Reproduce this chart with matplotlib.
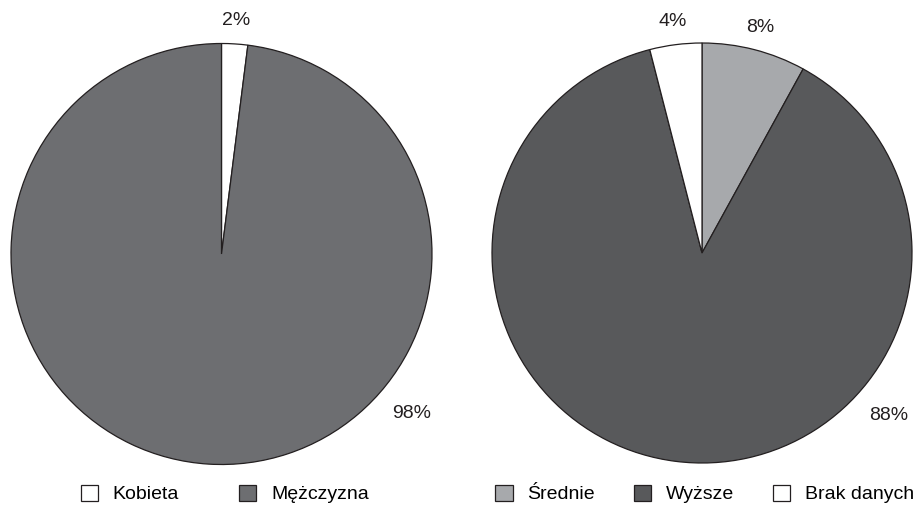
import numpy as np
import matplotlib
matplotlib.use("Agg")
import matplotlib.pyplot as plt
from matplotlib.patches import Patch

plt.rcParams['font.family'] = ['Liberation Sans', 'DejaVu Sans']

# left pie: gender
sex_labels = ['Kobieta', 'Mężczyzna']
sex_values = [2, 98]
sex_colors = ['#ffffff', '#6d6e71']

# right pie: education
edu_labels = ['Średnie', 'Wyższe', 'Brak danych']
edu_values = [8, 88, 4]
edu_colors = ['#a7a9ac', '#58595b', '#ffffff']

W, H = 917, 508
fig = plt.figure(figsize=(W / 100, H / 100), dpi=100)
edge = '#231f20'
fs = 14


def draw_pie(rect, values, colors, big_idx, big_angle):
    ax = fig.add_axes(rect)
    wedges, texts = ax.pie(values, colors=colors, startangle=90, counterclock=False,
                           labels=[f'{v}%' for v in values], labeldistance=1.11,
                           wedgeprops=dict(edgecolor=edge, linewidth=0.9),
                           textprops=dict(fontsize=fs, color='#231f20'))
    for t in texts:
        t.set_ha('center')
        t.set_va('center')
    # large slice label sits lower-right instead of mid-wedge
    a = np.deg2rad(big_angle)
    texts[big_idx].set_position((1.18 * np.cos(a), 1.18 * np.sin(a)))
    ax.set_xlim(-1, 1)
    ax.set_ylim(-1, 1)
    ax.set_aspect('equal')
    ax.axis('off')
    return ax


draw_pie([11 / W, (H - 465) / H, 421 / W, 422 / H], sex_values, sex_colors, 1, -40)
draw_pie([492 / W, (H - 463) / H, 420 / W, 420 / H], edu_values, edu_colors, 1, -41)

h1 = [Patch(facecolor=c, edgecolor=edge, linewidth=0.9) for c in sex_colors]
fig.legend(h1, sex_labels, loc='center left', bbox_to_anchor=(63 / W, 1 - 494 / H),
           ncol=2, frameon=False, fontsize=fs, handlelength=0.88, handleheight=0.88,
           handletextpad=0.77, columnspacing=3.1)

h2 = [Patch(facecolor=c, edgecolor=edge, linewidth=0.9) for c in edu_colors]
fig.legend(h2, edu_labels, loc='center left', bbox_to_anchor=(478 / W, 1 - 494 / H),
           ncol=3, frameon=False, fontsize=fs, handlelength=0.88, handleheight=0.88,
           handletextpad=0.77, columnspacing=2.0)

fig.savefig('out.png', dpi=100)
